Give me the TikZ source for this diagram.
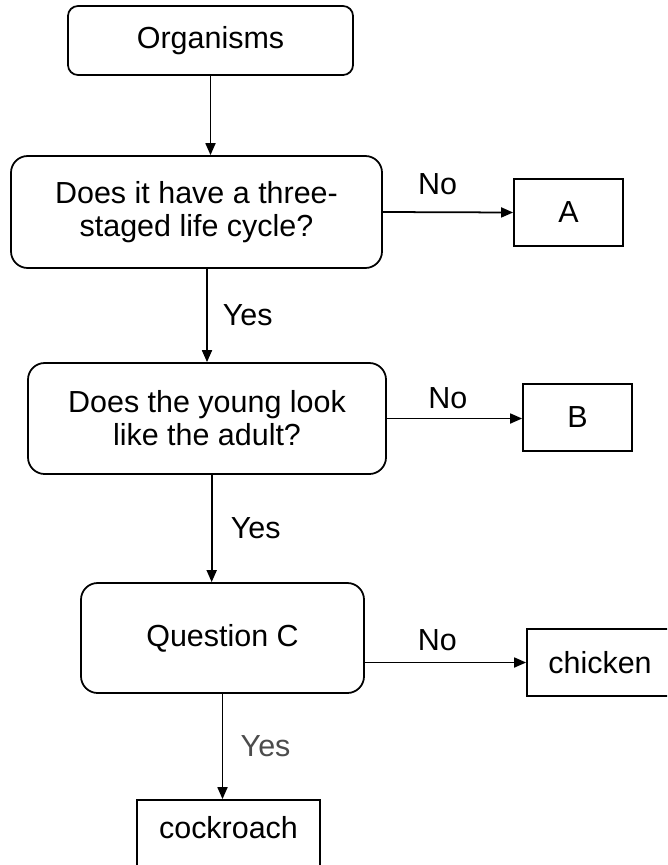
\documentclass[tikz,border=0pt]{standalone}
\usepackage{fontspec}
\setmainfont{Liberation Sans}
\usetikzlibrary{arrows.meta}

\tikzset{
  qbox/.style={draw,rounded corners=0.5cm,align=center,inner sep=0pt},
  endbox/.style={draw,inner sep=0pt,minimum width=3.27cm,minimum height=2.01cm},
  arr/.style={-{Triangle[length=0.36cm,width=0.3cm]}},
  lbl/.style={inner sep=0pt}
}

\begin{document}
\begin{tikzpicture}[x=0.03cm,y=-0.03cm,line width=1.5pt,font=\fontsize{26}{28}\selectfont]
  \clip (0,0) rectangle (667,865);
  \fill[white] (0,0) rectangle (667,865);
  % question boxes
  \node[qbox,rounded corners=0.3cm,minimum width=8.55cm,minimum height=2.07cm] (org) at (210.5,40.5) {Organisms};
  \node[qbox,minimum width=11.13cm,minimum height=3.36cm] (q1) at (196.5,212) {Does it have a three-\\staged life cycle?};
  \node[qbox,minimum width=10.74cm,minimum height=3.33cm] (q2) at (207,418.5) {Does the young look\\like the adult?};
  \node[qbox,minimum width=8.49cm,minimum height=3.30cm] (q3) at (222.5,638) {Question C};
  % answer boxes
  \node[endbox] (A) at (568.5,212.5) {A};
  \node[endbox] (B) at (577.5,417.5) {B};
  \node[endbox,minimum width=4.38cm] (chicken) at (600,662.5) {chicken};
  \node[draw,inner sep=0pt,minimum width=5.49cm,text height=1.14cm,text depth=2cm,anchor=base] (cockroach) at (228.5,838) {cockroach};
  % connectors
  \draw[arr] (org.south) -- (org.south |- q1.north);
  \draw[arr] (q1.east) -- (A.west) node[lbl,pos=0.42,above=0.5cm] {No};
  \draw[arr] (q2.north |- q1.south) -- (q2.north) node[lbl,midway,right=0.45cm] {Yes};
  \draw[arr] (q2.east) -- (q2.east -| B.west) node[lbl,pos=0.45,above=0.27cm] {No};
  \draw[arr] ([xshift=4]q2.south) -- ([xshift=4]q2.south |- q3.north) node[lbl,midway,right=0.55cm] {Yes};
  \draw[arr] (q3.east |- chicken.west) -- (chicken.west) node[lbl,pos=0.45,above=0.33cm] {No};
  \draw[arr] (q3.south) -- (q3.south |- cockroach.north) node[lbl,midway,right=0.52cm,text=black!70] {Yes};
\end{tikzpicture}
\end{document}
